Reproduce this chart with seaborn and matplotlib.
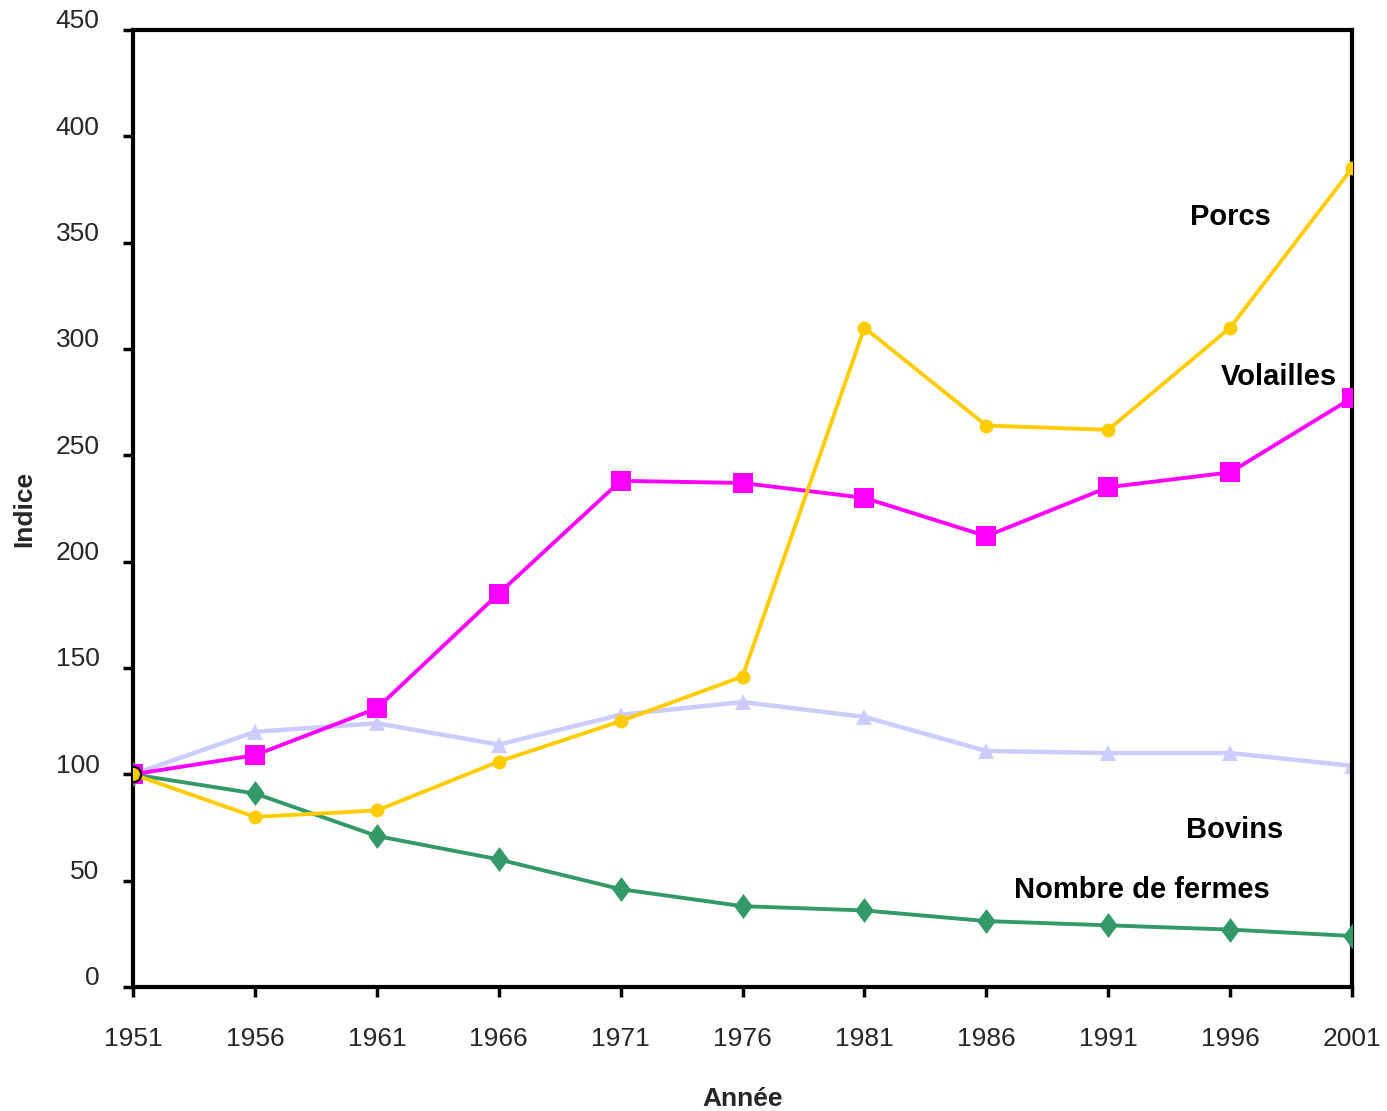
import matplotlib
matplotlib.use("Agg")
import matplotlib.pyplot as plt
import matplotlib.transforms as mtransforms
from matplotlib.path import Path
import seaborn as sns
import pandas as pd

annees = [1951, 1956, 1961, 1966, 1971, 1976, 1981, 1986, 1991, 1996, 2001]
porcs = [100, 80, 83, 106, 125, 146, 310, 264, 262, 310, 385]
volailles = [100, 109, 131, 185, 238, 237, 230, 212, 235, 242, 277]
bovins = [100, 120, 124, 114, 128, 134, 127, 111, 110, 110, 104]
fermes = [100, 91, 71, 60, 46, 38, 36, 31, 29, 27, 24]
y_ticks = [0, 50, 100, 150, 200, 250, 300, 350, 400, 450]

sns.set_theme(style="white")
plt.rcParams["font.family"] = ["Liberation Sans", "DejaVu Sans"]

fig = plt.figure(figsize=(13.87, 11.11), dpi=100)
ax = fig.add_axes([0.0959, 0.1116, 0.8789, 0.8614])

df = pd.DataFrame({"annee": annees, "porcs": porcs, "volailles": volailles,
                   "bovins": bovins, "fermes": fermes})

losange = Path([(0, 1), (0.74, 0), (0, -1), (-0.74, 0), (0, 1)],
               [Path.MOVETO, Path.LINETO, Path.LINETO, Path.LINETO, Path.CLOSEPOLY])

sns.lineplot(data=df, x="annee", y="bovins", ax=ax, color="#CCCCFF", lw=3.2,
             marker="^", markersize=11, markeredgewidth=0, zorder=2)
sns.lineplot(data=df, x="annee", y="fermes", ax=ax, color="#339966", lw=2.8,
             marker=losange, markersize=18, markeredgewidth=0, zorder=3)
sns.lineplot(data=df, x="annee", y="volailles", ax=ax, color="#FF00FF", lw=2.8,
             marker="s", markersize=14, markeredgewidth=0, zorder=4)
sns.lineplot(data=df, x="annee", y="porcs", ax=ax, color="#FFCC00", lw=2.8,
             marker="o", markersize=10, markeredgewidth=0, zorder=5)
# outlined first point of the pig series
ax.plot(annees[0], porcs[0], marker="o", markersize=11, color="#FFCC00",
        markeredgecolor="black", markeredgewidth=1.6, zorder=6, ls="none")

ax.set_xlim(annees[0], annees[-1])
ax.set_ylim(0, 450)
ax.set_xticks(annees)
ax.set_yticks(y_ticks)
ax.set_xticklabels([str(a) for a in annees], fontsize=19)
ax.set_yticklabels([str(v) for v in y_ticks], fontsize=19)

for s in ax.spines.values():
    s.set_visible(True)
    s.set_color("black")
    s.set_linewidth(3)

ax.tick_params(axis="x", direction="out", length=7, width=2.5, color="black",
               pad=22, bottom=True)
ax.tick_params(axis="y", direction="out", length=7, width=2.5, color="black",
               pad=17, left=True)
offset = mtransforms.ScaledTranslation(0, 8 / 72, fig.dpi_scale_trans)
for lab in ax.get_yticklabels():
    lab.set_transform(lab.get_transform() + offset)

ax.set_xlabel("Année", fontsize=19, fontweight="bold", labelpad=26)
ax.set_ylabel("Indice", fontsize=19, fontweight="bold", labelpad=14)

txt = dict(fontsize=21, fontweight="bold", ha="center", va="center", color="black")
ax.text(1996.0, 362, "Porcs", **txt)
ax.text(1998.0, 287, "Volailles", **txt)
ax.text(1996.2, 74, "Bovins", **txt)
ax.text(1992.4, 45.6, "Nombre de fermes", **txt)

fig.savefig("out.png", dpi=100)
